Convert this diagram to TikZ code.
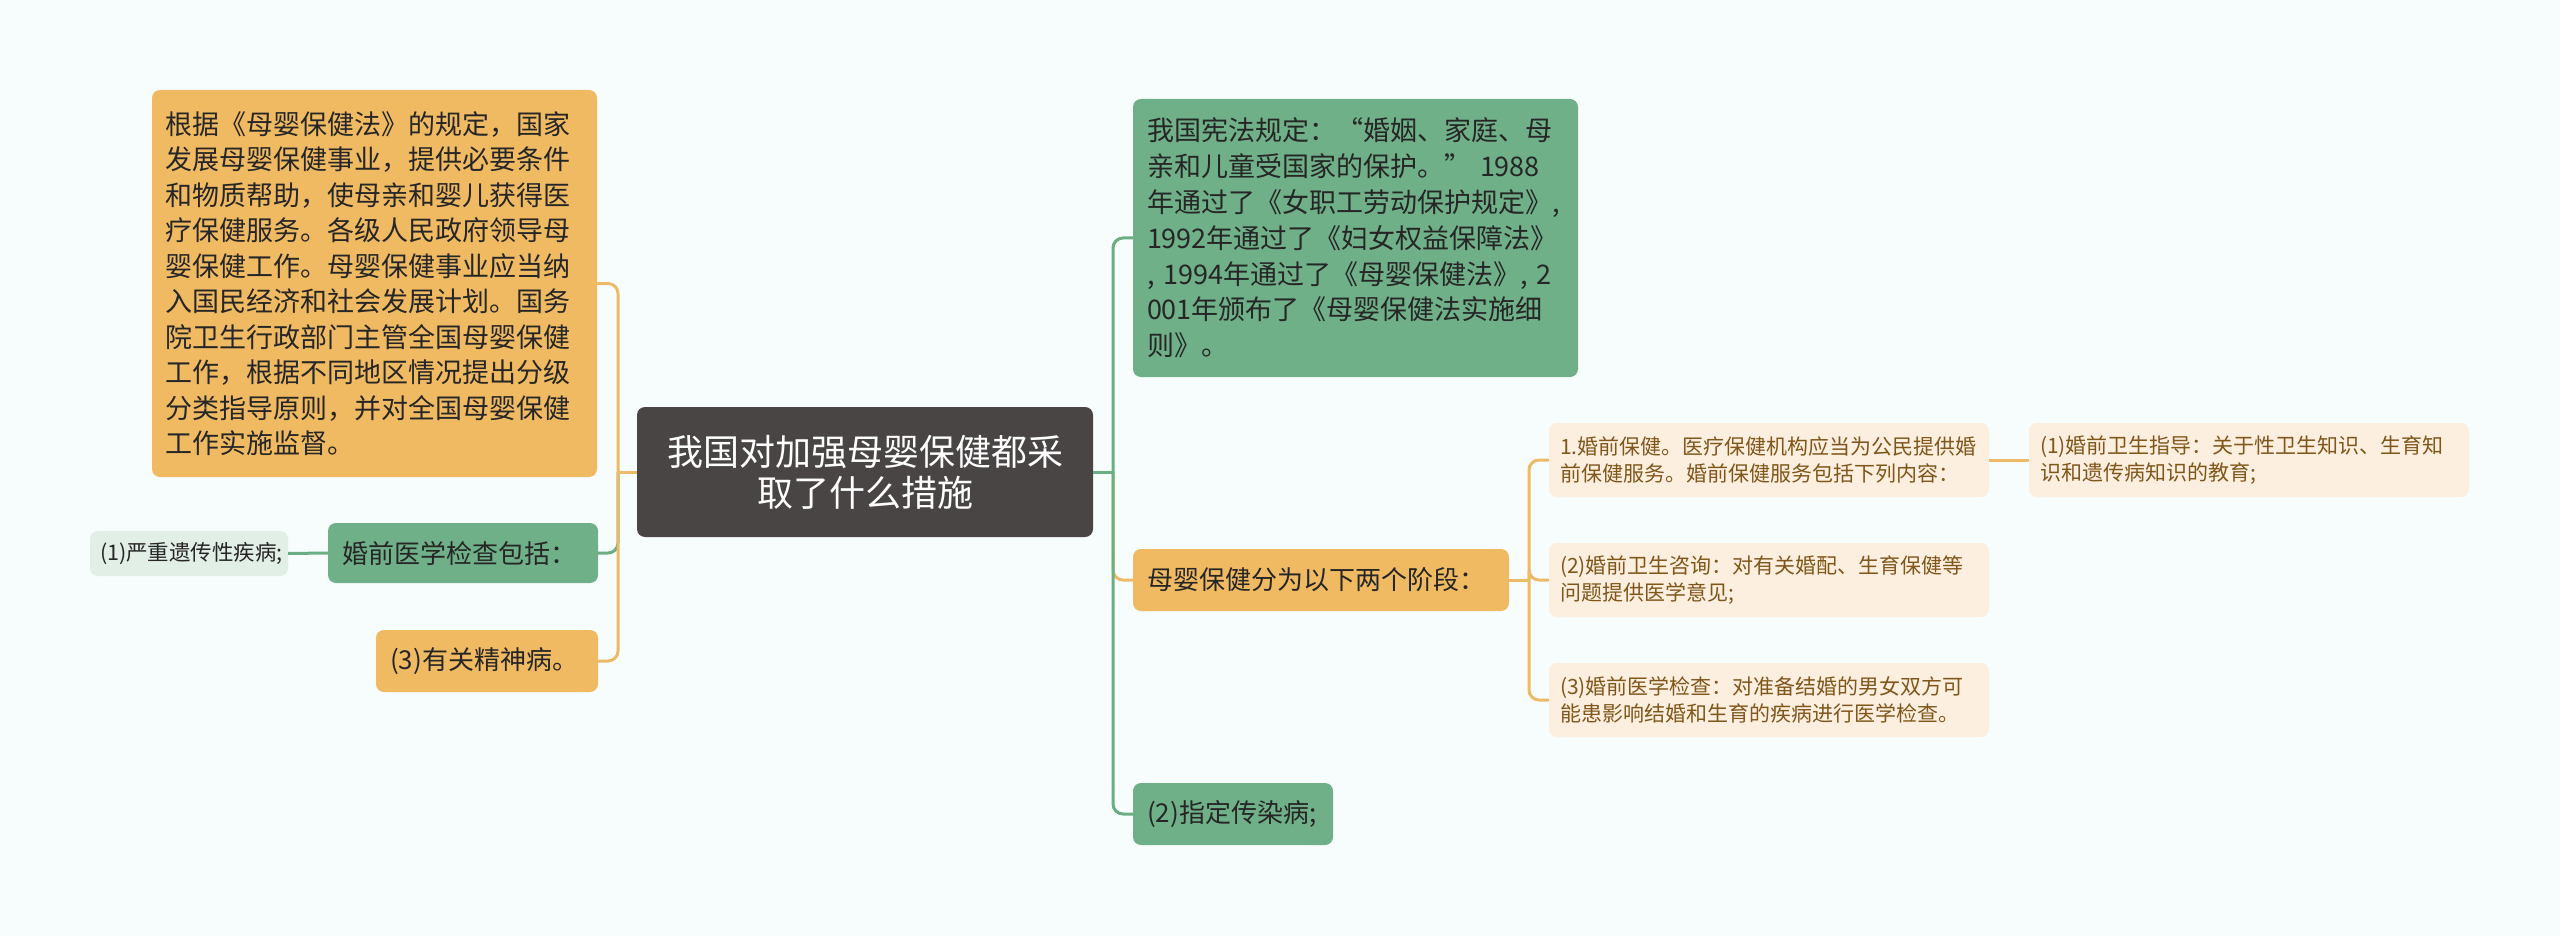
\documentclass[tikz,border=0pt]{standalone}
\usepackage{fontspec}
\setmainfont{Noto Sans CJK SC}
\definecolor{bgColor}{HTML}{F7FCFC}
\definecolor{rootFill}{HTML}{4A4545}
\definecolor{orangeFill}{HTML}{F0BA62}
\definecolor{greenFill}{HTML}{6FB088}
\definecolor{peachFill}{HTML}{FCEFDF}
\definecolor{grayFill}{HTML}{E2EFE7}
\definecolor{orangeLine}{HTML}{EDBB67}
\definecolor{greenLine}{HTML}{6CAE84}
\definecolor{darkText}{HTML}{262626}
\definecolor{peachText}{HTML}{80561A}

\begin{document}
\begin{tikzpicture}[x = 1pt, y = -1pt]
	\tikzstyle{boxStyle} = [shape = rectangle, rounded corners = 8pt, align = left, inner xsep = 13pt, inner ysep = 0pt]
	\tikzstyle{rootStyle} = [boxStyle, fill = rootFill, text = white, align = center, font = \fontsize{36}{41}\selectfont]
	\tikzstyle{orangeStyle} = [boxStyle, fill = orangeFill, text = darkText, font = \fontsize{26}{36}\selectfont]
	\tikzstyle{greenStyle} = [boxStyle, fill = greenFill, text = darkText, font = \fontsize{26}{36}\selectfont]
	\tikzstyle{peachStyle} = [boxStyle, fill = peachFill, text = peachText, inner xsep = 11pt, text width = 418pt, minimum height = 74pt, font = \fontsize{21}{27}\selectfont]
	\tikzstyle{grayStyle} = [boxStyle, fill = grayFill, text = darkText, inner xsep = 10pt, font = \fontsize{21.5}{24}\selectfont]
	\tikzstyle{orangeEdge} = [draw = orangeLine, line width = 3pt, rounded corners = 10pt]
	\tikzstyle{greenEdge} = [draw = greenLine, line width = 3pt, rounded corners = 10pt]
	\fill[bgColor] (0, 0) rectangle (2560, 936);
	\useasboundingbox (0, 0) rectangle (2560, 936);
	% centre
	\node[rootStyle, text width = 430pt, minimum height = 130pt] (root) at (865, 472) {我国对加强母婴保健都采\\取了什么措施};
	% left side
	\node[orangeStyle, font = \fontsize{27}{35.5}\selectfont, text width = 419pt, minimum height = 387pt] (law) at (374.5, 283.5) {根据《母婴保健法》的规定，国家\\发展母婴保健事业，提供必要条件\\和物质帮助，使母亲和婴儿获得医\\疗保健服务。各级人民政府领导母\\婴保健工作。母婴保健事业应当纳\\入国民经济和社会发展计划。国务\\院卫生行政部门主管全国母婴保健\\工作，根据不同地区情况提出分级\\分类指导原则，并对全国母婴保健\\工作实施监督。};
	\node[greenStyle, inner xsep = 14pt, text width = 242pt, minimum height = 60pt] (exam) at (463, 553) {婚前医学检查包括：};
	\node[grayStyle, text width = 178pt, minimum height = 45pt] (genetic) at (189, 553.5) {(1)严重遗传性疾病;};
	\node[orangeStyle, inner xsep = 14pt, text width = 194pt, minimum height = 62pt] (mental) at (487, 661) {(3)有关精神病。};
	% right side
	\node[greenStyle, font = \fontsize{27}{35.8}\selectfont, inner xsep = 14pt, text width = 417pt, minimum height = 278pt] (const) at (1355.5, 238) {我国宪法规定：“婚姻、家庭、母\\亲和儿童受国家的保护。” 1988\\年通过了《女职工劳动保护规定》,\\1992年通过了《妇女权益保障法》\\, 1994年通过了《母婴保健法》, 2\\001年颁布了《母婴保健法实施细\\则》。};
	\node[orangeStyle, inner xsep = 14pt, text width = 348pt, minimum height = 62pt] (stages) at (1321, 580) {母婴保健分为以下两个阶段：};
	\node[greenStyle, inner xsep = 14pt, text width = 172pt, minimum height = 62pt] (infect) at (1233, 814) {(2)指定传染病;};
	\node[peachStyle] (premarital) at (1769, 460) {1.婚前保健。医疗保健机构应当为公民提供婚\\前保健服务。婚前保健服务包括下列内容：};
	\node[peachStyle] (consult) at (1769, 580) {(2)婚前卫生咨询：对有关婚配、生育保健等\\问题提供医学意见;};
	\node[peachStyle] (check) at (1769, 700) {(3)婚前医学检查：对准备结婚的男女双方可\\能患影响结婚和生育的疾病进行医学检查。};
	\node[peachStyle] (guide) at (2249, 460) {(1)婚前卫生指导：关于性卫生知识、生育知\\识和遗传病知识的教育;};
	% connectors
	\coordinate (lspine) at (618, 472);
	\coordinate (rspine) at (1113, 472);
	\coordinate (mspine) at (1529, 580);
	\draw[greenEdge] (lspine) |- (exam.east);
	\draw[greenEdge] (exam.west) -- (genetic.east);
	\draw[orangeEdge] (root.west) -- (lspine);
	\draw[orangeEdge] (lspine) |- (law.east);
	\draw[orangeEdge] (lspine) |- (mental.east);
	\draw[orangeEdge] (rspine) |- (stages.west);
	\draw[greenEdge] (root.east) -- (rspine);
	\draw[greenEdge] (rspine) |- (const.west);
	\draw[greenEdge] (rspine) |- (infect.west);
	\draw[orangeEdge] (stages.east) -- (mspine);
	\draw[orangeEdge] (mspine) |- (premarital.west);
	\draw[orangeEdge] (mspine) |- (consult.west);
	\draw[orangeEdge] (mspine) |- (check.west);
	\draw[orangeEdge] (premarital.east) -- (guide.west);
\end{tikzpicture}
\end{document}
